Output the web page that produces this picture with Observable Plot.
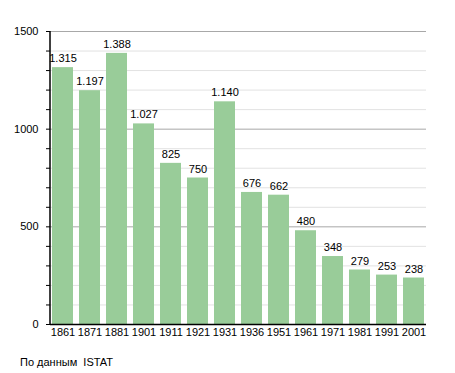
<!DOCTYPE html>
<html><head><meta charset="utf-8">
<script src="https://cdn.jsdelivr.net/npm/d3@7"></script>
<script src="https://cdn.jsdelivr.net/npm/@observablehq/plot@0.6"></script>
<style>
body{margin:0;background:#fff;font-family:"Liberation Sans",Arial,sans-serif;}
#chart svg{display:block;}
#cap{font-size:11px;color:#000;margin:11px 0 0 20px;}
</style></head><body>
<div id="chart"></div>
<div id="cap">По данным&nbsp; ISTAT</div>
<script>
const years = ["1861","1871","1881","1901","1911","1921","1931","1936","1951","1961","1971","1981","1991","2001"];
const population = [1315,1197,1388,1027,825,750,1140,676,662,480,348,279,253,238];
const minorTicks = [100,200,300,400,600,700,800,900,1100,1200,1300,1400];
const majorTicks = [500,1000,1500];
const yLabels = [0,500,1000,1500];
const fmt = d3.formatLocale({decimal:",",thousands:".",grouping:[3],currency:["","€"]}).format(",d");
const data = years.map((y,i)=>({year:y,value:population[i]}));
const plot = Plot.plot({
  width:455, height:345,
  marginLeft:50, marginRight:29, marginTop:31, marginBottom:21,
  style:{fontFamily:"Liberation Sans, Arial, sans-serif", fontSize:"11px", color:"#000", background:"#fff"},
  x:{domain:years, paddingInner:0.22, paddingOuter:0, label:null},
  y:{domain:[0,1500], label:null},
  marks:[
    Plot.ruleY(minorTicks,{stroke:"#e2e2e2", strokeWidth:1}),
    Plot.ruleY(majorTicks,{stroke:"#a8a8a8", strokeWidth:1}),
    Plot.barY(data,{x:"year", y:"value", fill:"#99cc99"}),
    Plot.text(data,{x:"year", y:"value", text:d=>fmt(d.value), dy:-9, fill:"#000", fontSize:11}),
    Plot.axisY([...yLabels,...minorTicks],{tickSize:4, tickPadding:8, tickFormat:d=>yLabels.includes(d)?String(d):"", stroke:"#000"}),
    Plot.axisX({tickSize:0, tickPadding:4}),
    Plot.ruleY([0],{stroke:"#000", strokeWidth:1.5})
  ]
});
document.getElementById("chart").append(plot);
const svg = d3.select(plot);
svg.append("line").attr("x1",50).attr("x2",50).attr("y1",31).attr("y2",324).attr("stroke","#000").attr("stroke-width",1.5);
</script>
</body></html>
